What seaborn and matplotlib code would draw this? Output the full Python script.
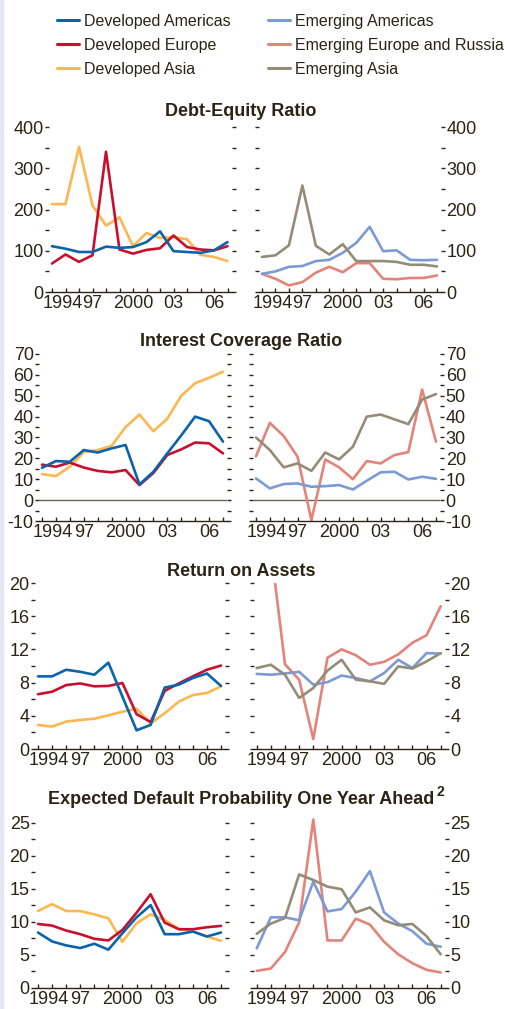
import numpy as np
import pandas as pd
import matplotlib
matplotlib.use("Agg")
import matplotlib.pyplot as plt
import matplotlib.transforms as mtransforms
from matplotlib.lines import Line2D
from matplotlib.patches import Rectangle
from matplotlib.ticker import MultipleLocator
import seaborn as sns

# Years and groups
years = list(range(1994, 2008))
developed = ["Developed Asia", "Developed Europe", "Developed Americas"]
emerging = ["Emerging Europe and Russia", "Emerging Americas", "Emerging Asia"]
legend_order = ["Developed Americas", "Developed Europe", "Developed Asia",
                "Emerging Americas", "Emerging Europe and Russia", "Emerging Asia"]
year_labels = {1994: "1994", 1997: "97", 2000: "2000", 2003: "03", 2006: "06"}

# Debt-equity ratio
de_dev_am = [111, 105, 97, 97, 110, 107, 109, 121, 147, 99, 97, 95, 101, 121]
de_dev_eu = [69, 91, 73, 89, 340, 103, 93, 102, 106, 137, 109, 103, 101, 111]
de_dev_as = [213, 213, 352, 210, 161, 181, 111, 143, 131, 133, 128, 90, 85, 75]
de_em_am = [44, 50, 61, 63, 75, 78, 95, 119, 158, 99, 101, 78, 77, 78]
de_em_eu = [44, 32, 16, 24, 47, 61, 48, 70, 70, 32, 31, 34, 34, 40]
de_em_as = [85, 89, 113, 258, 112, 91, 116, 75, 75, 75, 73, 66, 66, 62]

# Interest coverage ratio
ic_dev_am = [15.5, 18.7, 18.4, 24, 22.8, 24.8, 26.4, 7.5, 13.6, 22.4, 31, 40, 37.8, 28]
ic_dev_eu = [17, 16, 18, 15.6, 14, 13.3, 14.4, 7.2, 13, 21.6, 24.3, 27.6, 27.2, 22.4]
ic_dev_as = [12.5, 11.5, 16, 23, 24, 26, 35, 41, 33, 39, 50, 56, 58.6, 61.5]
ic_em_am = [10.4, 5.6, 7.7, 8, 6.4, 6.7, 7.2, 5.1, 9.3, 13.3, 13.6, 9.9, 11.2, 10.2]
ic_em_eu = [21, 37, 30.7, 20.8, -9.6, 19.5, 15.7, 10, 18.7, 17.6, 21.6, 23, 53, 28]
ic_em_as = [30, 24, 15.7, 17.6, 14, 22.8, 19.5, 25.6, 40, 41, 38.7, 36.4, 48.2, 50.8]

# Return on assets
roa_dev_am = [8.75, 8.75, 9.55, 9.3, 8.95, 10.4, 6.3, 2.25, 2.9, 7.4, 7.75, 8.55, 9.1, 7.6]
roa_dev_eu = [6.6, 6.9, 7.7, 7.9, 7.55, 7.6, 7.95, 4.2, 3.25, 7.0, 7.9, 8.75, 9.55, 10.05]
roa_dev_as = [2.9, 2.7, 3.3, 3.5, 3.65, 4.05, 4.5, 4.85, 3.1, 4.3, 5.7, 6.5, 6.75, 7.55]
roa_em_am = [9.05, 8.95, 9.1, 9.3, 7.75, 8.05, 8.85, 8.55, 8.15, 9.15, 10.75, 9.75, 11.55, 11.5]
roa_em_eu = [np.nan, 24.2, 10.2, 8.35, 1.2, 11.0, 12.0, 11.3, 10.15, 10.5, 11.4, 12.8, 13.7, 17.2]
roa_em_as = [9.75, 10.15, 8.95, 6.15, 7.35, 9.45, 10.75, 8.35, 8.15, 7.85, 9.95, 9.7, 10.55, 11.55]

# Expected default probability one year ahead
edp_dev_am = [8.4, 7.05, 6.45, 6.05, 6.7, 5.8, 8.3, 10.7, 12.55, 8.15, 8.15, 8.55, 7.8, 8.4]
edp_dev_eu = [9.7, 9.45, 8.7, 8.15, 7.45, 7.2, 8.8, 11.4, 14.2, 9.9, 8.9, 8.9, 9.2, 9.4]
edp_dev_as = [11.65, 12.7, 11.65, 11.65, 11.15, 10.55, 7.0, 9.8, 11.15, 10.3, 8.95, 8.55, 7.8, 7.15]
edp_em_am = [6.0, 10.7, 10.7, 10.25, 16.1, 11.6, 11.95, 14.6, 17.7, 11.45, 9.75, 8.6, 6.7, 6.25]
edp_em_eu = [2.6, 2.95, 5.45, 9.95, 25.5, 7.2, 7.2, 10.5, 9.6, 7.0, 5.1, 3.75, 2.75, 2.35]
edp_em_as = [8.2, 9.75, 10.6, 17.2, 16.35, 15.35, 14.95, 11.45, 12.2, 10.25, 9.5, 9.7, 7.85, 5.1]

palette = {
    "Developed Americas": "#0b62ad",
    "Developed Europe": "#c8102e",
    "Developed Asia": "#fdb750",
    "Emerging Americas": "#7b9ad6",
    "Emerging Europe and Russia": "#e4837a",
    "Emerging Asia": "#958c78",
}
dark = "#2b2416"

# long table
rows = []
series = {
    "de": [de_dev_as, de_dev_eu, de_dev_am, de_em_eu, de_em_am, de_em_as],
    "ic": [ic_dev_as, ic_dev_eu, ic_dev_am, ic_em_eu, ic_em_am, ic_em_as],
    "roa": [roa_dev_as, roa_dev_eu, roa_dev_am, roa_em_eu, roa_em_am, roa_em_as],
    "edp": [edp_dev_as, edp_dev_eu, edp_dev_am, edp_em_eu, edp_em_am, edp_em_as],
}
for metric, lists in series.items():
    for region, vals in zip(developed + emerging, lists):
        for yr, v in zip(years, vals):
            rows.append({"metric": metric, "region": region, "year": yr, "value": v})
df = pd.DataFrame(rows).dropna()

sns.set_theme(style="white")
plt.rcParams["font.family"] = ["Liberation Sans", "DejaVu Sans"]
plt.rcParams["axes.unicode_minus"] = False

W, H = 508, 1009
fig = plt.figure(figsize=(W / 100, H / 100), dpi=100)
fig.patches.append(Rectangle((0, 0), 3 / W, 1, transform=fig.transFigure,
                             color="#e3e6f3", zorder=0))

# metric, title, title y, ylim, major, minor, y px of top/bottom, (1994 px, 2007 px) left and right
panels = [
    ("de", "Debt-Equity Ratio", 112, (0, 400), 100, 50, 127, 292, (52, 227.5), (262, 437)),
    ("ic", "Interest Coverage Ratio", 342, (-10, 70), 10, 5, 354, 521, (42, 223), (256, 436)),
    ("roa", "Return on Assets", 572, (0, 20), 4, 2, 583, 749, (38, 221), (256.7, 440.7)),
    ("edp", "Expected Default Probability One Year Ahead", 800, (0, 26.5), 5, 2.5, 813, 988,
     (38, 221), (256.7, 440.7)),
]
x_lo, x_hi = 1993.8, 2007.3
titles = []

for metric, title, ty, ylim, major, minor, ytop, ybot, lpos, rpos in panels:
    for side, pos, group in [("left", lpos, developed), ("right", rpos, emerging)]:
        step = (pos[1] - pos[0]) / 13
        x0 = pos[0] - (1994 - x_lo) * step
        x1 = pos[1] + (x_hi - 2007) * step
        ax = fig.add_axes([x0 / W, 1 - ybot / H, (x1 - x0) / W, (ybot - ytop) / H])
        sub = df[(df.metric == metric) & (df.region.isin(group))]
        sns.lineplot(data=sub, x="year", y="value", hue="region", hue_order=group,
                     palette=palette, linewidth=1.9, legend=False, ax=ax)
        if metric == "ic":
            ax.axhline(0, color="#6e6555", lw=1, zorder=1)
        ax.set_xlim(x_lo, x_hi)
        ax.set_ylim(*ylim)
        ax.set_xlabel("")
        ax.set_ylabel("")
        for s in ["left", "right", "top"]:
            ax.spines[s].set_visible(False)
        ax.spines["bottom"].set_color(dark)
        ax.spines["bottom"].set_linewidth(1)
        ax.yaxis.set_major_locator(MultipleLocator(major))
        ax.yaxis.set_minor_locator(MultipleLocator(minor))
        ax.tick_params(axis="y", which="both", direction="out", length=3, width=1,
                       color=dark, pad=1, labelsize=13, labelcolor=dark,
                       left=True, right=True,
                       labelleft=(side == "left"), labelright=(side == "right"))
        ax.set_xticks(years)
        ax.set_xticklabels([year_labels.get(y, "") for y in years])
        ax.tick_params(axis="x", which="major", direction="in", length=3, width=1,
                       color=dark, pad=2, labelsize=13, labelcolor=dark,
                       bottom=True, top=False)
        ax.grid(False)
        first = ax.xaxis.get_major_ticks()[0].label1
        first.set_transform(first.get_transform() +
                            mtransforms.ScaledTranslation(0.105, 0, fig.dpi_scale_trans))
    titles.append(fig.text(241 / W, 1 - ty / H, title, ha="center", va="center",
                           fontsize=13, fontweight="bold", color=dark))

# superscript note marker right after the last title
fig.canvas.draw()
bb = titles[-1].get_window_extent()
fig.text((bb.x1 + 2) / W, 1 - 792 / H, "2", ha="left", va="center",
         fontsize=10, fontweight="bold", color=dark)

handles = [Line2D([], [], color=palette[r], lw=2.2) for r in legend_order]
fig.legend(handles, legend_order, loc="upper left", bbox_to_anchor=(57 / W, 1 - 14 / H),
           ncol=2, frameon=False, fontsize=11.5, handlelength=1.4, handletextpad=0.3,
           labelspacing=0.55, columnspacing=2.3, borderpad=0, borderaxespad=0,
           labelcolor=dark)

fig.savefig("out.png", dpi=100)
